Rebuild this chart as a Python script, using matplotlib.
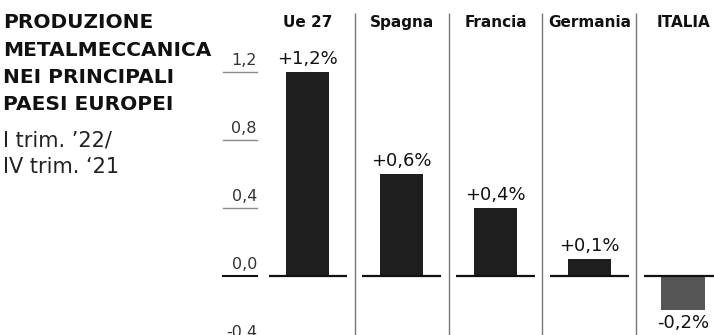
import numpy as np
import matplotlib.pyplot as plt
import matplotlib.transforms as mtransforms

countries = ['Ue 27', 'Spagna', 'Francia', 'Germania', 'ITALIA']
values = [1.2, 0.6, 0.4, 0.1, -0.2]
value_labels = ['+1,2%', '+0,6%', '+0,4%', '+0,1%', '-0,2%']
yticks = [1.2, 0.8, 0.4, 0.0, -0.4]
ytick_labels = ['1,2', '0,8', '0,4', '0,0', '-0,4']
title_lines = ['PRODUZIONE', 'METALMECCANICA', 'NEI PRINCIPALI', 'PAESI EUROPEI']
subtitle_lines = ["I trim. \u201922/", "IV trim. \u201821"]

W, H = 714, 335
fig = plt.figure(figsize=(W / 100, H / 100), dpi=100)
fig.patch.set_facecolor('white')

# plot area: column centres roughly 94 px apart, first one at x=308
ax = fig.add_axes([261 / W, 0, 453 / W, 1])
ax.set_xlim(-0.5, 4.33)
ax.set_ylim(-0.347, 1.624)
ax.axis('off')

x = np.arange(len(countries))
colors = ['#1e1e1e'] * 4 + ['#555555']
ax.bar(x, values, width=0.46, color=colors, zorder=3)

# baseline under each column
for i in x:
    ax.hlines(0, i - 0.42, i + 0.42, color='#111111', lw=1.6, zorder=4)

# column separators
for i in x[:-1]:
    ax.vlines(i + 0.5, -0.4, (276 - 13) / 170, color='#777777', lw=1.0)

# headers
for i, name in zip(x, countries):
    ax.text(i, (276 - 22) / 170, name, ha='center', va='center',
            fontsize=11, fontweight='bold', color='#111111')

# value labels
for i, v, lab in zip(x, values, value_labels):
    if v >= 0:
        ax.annotate(lab, (i, v), xytext=(0, 3), textcoords='offset points',
                    ha='center', va='bottom', fontsize=13, color='#111111')
    else:
        ax.annotate(lab, (i, v), xytext=(0, -3), textcoords='offset points',
                    ha='center', va='top', fontsize=13, color='#111111',
                    annotation_clip=False)

# y scale drawn to the left of the columns
tr = mtransforms.blended_transform_factory(fig.transFigure, ax.transData)
for t, lab in zip(yticks, ytick_labels):
    zero = t == 0
    ax.plot([223 / W, 257 / W], [t, t], transform=tr, clip_on=False,
            color='#111111' if zero else '#8a8a8a', lw=1.5 if zero else 1.0)
    ax.annotate(lab, (257 / W, t), xycoords=tr, xytext=(0, 3),
                textcoords='offset points', ha='right', va='bottom',
                fontsize=11.5, color='#333333', annotation_clip=False)

# title block
for k, line in enumerate(title_lines):
    fig.text(3 / W, 1 - (23 + 27.3 * k) / H, line, ha='left', va='center',
             fontsize=14.5, fontweight='heavy', color='#111111')
for k, line in enumerate(subtitle_lines):
    fig.text(3 / W, 1 - (140 + 27 * k) / H, line, ha='left', va='center',
             fontsize=15, color='#222222')

fig.savefig('out.png', dpi=100, facecolor='white')
